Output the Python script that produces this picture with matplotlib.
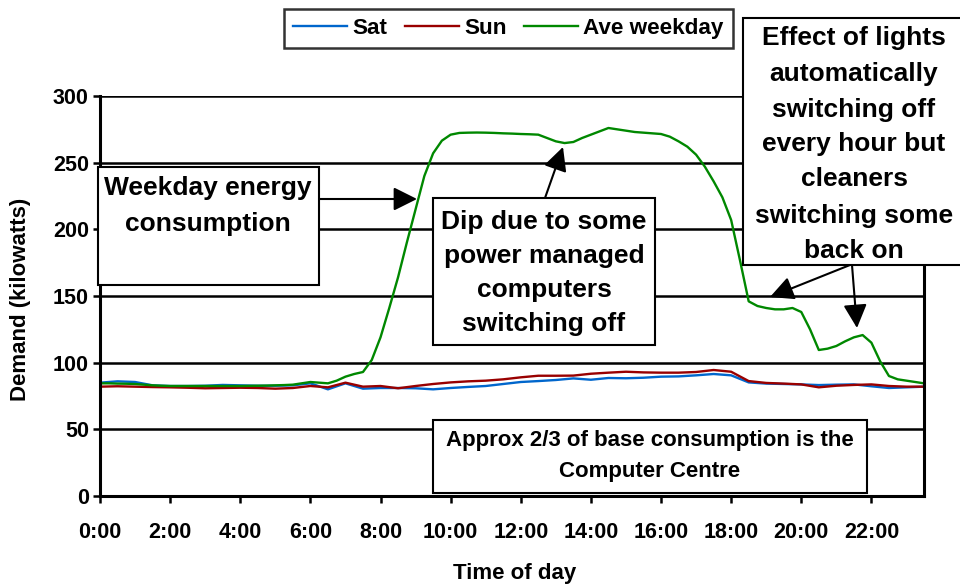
import numpy as np
import matplotlib as mpl
mpl.use("Agg")
mpl.rcParams["font.family"] = ["Liberation Sans", "DejaVu Sans"]
mpl.rcParams["font.weight"] = "bold"
import matplotlib.pyplot as plt
from matplotlib.patches import Rectangle, FancyArrowPatch

# weekend readings every 30 min, 0:00 .. 23:30
half_hours = np.arange(48) / 2.0
# weekday readings every 15 min, 0:00 .. 23:30
quarter_hours = np.arange(95) / 4.0

sat = [85, 86, 85.5, 83, 82.5, 82.5, 82.7, 83.3, 83, 82.7, 82.7, 83,
       84.5, 80, 84.5, 80.5, 81, 81, 80.8, 80, 81, 81.8, 82.5, 84,
       85.5, 86.2, 87, 88.2, 87.2, 88.5, 88.3, 88.7, 89.5, 89.7, 90.5, 91.5,
       90.5, 85.2, 84.3, 84, 83.7, 83.2, 83.5, 83.7, 82.3, 81, 81.5, 82]

sun = [82, 82.3, 82, 81.7, 81.5, 81.2, 80.8, 81, 81.2, 81, 80.5, 81,
       82.5, 81.5, 85, 82, 82.5, 80.8, 82.5, 84, 85.2, 86, 86.5, 87.5,
       89, 90.2, 90.2, 90.3, 91.7, 92.5, 93.2, 92.7, 92.5, 92.5, 93, 94.5,
       93.2, 86.2, 84.8, 84.3, 83.7, 81.5, 82.7, 83.3, 83.7, 82.5, 82, 82]

weekday = [
    84.5, 84.5, 84.3, 84.2, 84, 83.5, 83, 82.7,           # 0:00 - 1:45
    82.5, 82.5, 82.5, 82.5, 82.5, 82.5, 82.5, 82.5,       # 2:00 - 3:45
    82.5, 82.6, 82.7, 82.8, 83, 83.2, 83.5, 84.5,         # 4:00 - 5:45
    85.5, 85, 84.5, 86.5, 89.5, 91.5, 93, 102,            # 6:00 - 7:45
    119, 141, 164, 190, 215, 240, 257, 266.5,             # 8:00 - 9:45
    271, 272.3, 272.5, 272.6, 272.5, 272.3, 272, 271.8,   # 10:00 - 11:45
    271.5, 271.3, 271, 268.5, 266, 264.7, 265.5, 268.5,   # 12:00 - 13:45
    271, 273.5, 276, 275, 274, 273, 272.5, 272,           # 14:00 - 15:45
    271.5, 269.5, 266, 262, 256, 247, 236, 224,           # 16:00 - 17:45
    207, 177, 146, 142.5, 141, 140, 140, 141,             # 18:00 - 19:45
    138, 125, 109.5, 110.5, 112.5, 116, 119, 120.7,       # 20:00 - 21:45
    115, 101, 90, 87.5, 86.5, 85.5, 84.5,                 # 22:00 - 23:30
]

tick_hours = [0, 2, 4, 6, 8, 10, 12, 14, 16, 18, 20, 22]
tick_labels = ["0:00", "2:00", "4:00", "6:00", "8:00", "10:00", "12:00",
               "14:00", "16:00", "18:00", "20:00", "22:00"]

W, H = 960, 585


def fx(px):
    return px / W


def fy(py):
    return 1 - py / H


fig = plt.figure(figsize=(9.6, 5.85), dpi=100)
ax = fig.add_axes([fx(100), fy(496), fx(924) - fx(100), (496 - 96) / H])

ax.plot(half_hours, sat, color="#0066CC", lw=1.7, label="Sat")
ax.plot(half_hours, sun, color="#990000", lw=1.7, label="Sun")
ax.plot(quarter_hours, weekday, color="#008800", lw=1.7, label="Ave weekday")

ax.set_xlim(0, 23.5)
ax.set_ylim(0, 300)
ax.set_yticks(range(0, 301, 50))
ax.set_xticks(tick_hours)
ax.set_xticklabels(tick_labels)
for y in range(50, 301, 50):
    ax.axhline(y, color="black", lw=1.8, zorder=1)
for s in ["left", "bottom", "right"]:
    ax.spines[s].set_linewidth(2.2)
ax.spines["top"].set_visible(False)
ax.tick_params(axis="both", direction="out", length=5, width=1.8,
               labelsize=15.5)
ax.tick_params(axis="x", pad=14)
ax.tick_params(axis="y", pad=3)

fig.text(fx(21), fy(299), "Demand (kilowatts)", rotation=90,
         ha="center", va="center", fontsize=16)
fig.text(fx(515), fy(573), "Time of day", ha="center", va="center",
         fontsize=16)

leg = ax.legend(loc="upper left", bbox_to_anchor=(fx(284), fy(9)),
                bbox_transform=fig.transFigure, ncol=3, fontsize=16.2,
                frameon=True, fancybox=False, borderaxespad=0,
                handlelength=2.4, handletextpad=0.25, columnspacing=0.75,
                borderpad=0.4)
leg.get_frame().set_edgecolor("black")
leg.get_frame().set_linewidth(1.8)
leg.set_zorder(10)


def box(x0, y0, x1, y1, lines, xc, ys, size):
    r = Rectangle((fx(x0), fy(y1)), fx(x1) - fx(x0), (y1 - y0) / H,
                  transform=fig.transFigure, facecolor="white",
                  edgecolor="black", lw=1.5, zorder=5)
    fig.add_artist(r)
    for t, y in zip(lines, ys):
        fig.text(fx(xc), fy(y), t, ha="center", va="center_baseline",
                 fontsize=size, zorder=6)


def arrow(x0, y0, x1, y1):
    a = FancyArrowPatch((fx(x0), fy(y0)), (fx(x1), fy(y1)),
                        transform=fig.transFigure, arrowstyle="-|>",
                        mutation_scale=36, color="black", lw=1.5,
                        shrinkA=0, shrinkB=0, zorder=7)
    fig.add_artist(a)


box(98, 167, 319, 285, ["Weekday energy", "consumption"], 208,
    [186, 221], 19)
arrow(319, 199, 417, 199)

box(433, 198, 655, 345,
    ["Dip due to some", "power managed", "computers", "switching off"],
    544, [219, 253, 288, 322], 19)
arrow(545, 198, 563, 147)

box(743, 18, 965, 265,
    ["Effect of lights", "automatically", "switching off", "every hour but",
     "cleaners", "switching some", "back on"],
    854, [36, 71, 107, 142, 177, 213, 248], 19)
arrow(850, 265, 770, 297)
arrow(852, 265, 857, 328)

box(433, 420, 867, 493,
    ["Approx 2/3 of base consumption is the", "Computer Centre"],
    650, [438, 469], 16)

fig.savefig("out.png", dpi=100)
